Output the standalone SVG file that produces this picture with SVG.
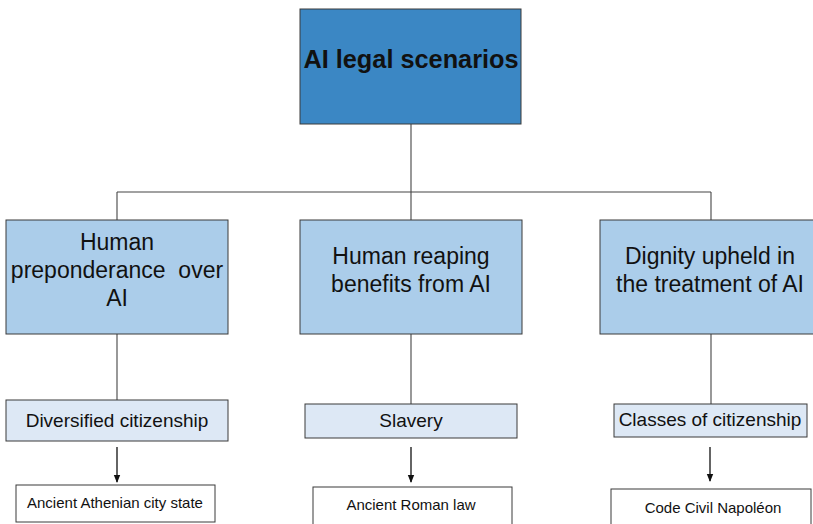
<svg xmlns="http://www.w3.org/2000/svg" width="813" height="524" viewBox="0 0 813 524">
<style>
  .box{stroke:#3a3a3a;stroke-width:1}
  .top{fill:#3b87c4}
  .mid{fill:#abcdea}
  .low{fill:#dde8f5}
  .leaf{fill:#ffffff}
  text{font-family:"Liberation Sans",Arial,sans-serif;fill:#111;text-anchor:middle}
  .t0{font-size:25.3px;font-weight:bold}
  .t1{font-size:23px}
  .t2{font-size:19px}
  .t3{font-size:15px}
  .conn line{stroke:#444;stroke-width:1.1;fill:none}
  .conn .arr{stroke:#111;stroke-width:1.3}
</style>
<defs>
  <marker id="ah2" markerWidth="8" markerHeight="8" refX="7" refY="4" orient="auto" markerUnits="userSpaceOnUse" viewBox="0 0 8 8">
    <path d="M0,0.8 L8,4 L0,7.2 Z" fill="#111"/>
  </marker>
</defs>
<rect width="813" height="524" fill="#ffffff"/>
<g class="conn" id="connectors">
  <line x1="411" y1="124" x2="411" y2="192"/>
  <line x1="117" y1="192" x2="711" y2="192"/>
  <line x1="117" y1="192" x2="117" y2="220"/>
  <line x1="411" y1="192" x2="411" y2="220"/>
  <line x1="711" y1="192" x2="711" y2="220"/>
  <line x1="117" y1="334" x2="117" y2="400"/>
  <line x1="411" y1="334" x2="411" y2="404"/>
  <line x1="711" y1="334" x2="711" y2="404"/>
  <line class="arr" x1="117" y1="447" x2="117" y2="482" marker-end="url(#ah2)"/>
  <line class="arr" x1="411" y1="447" x2="411" y2="482" marker-end="url(#ah2)"/>
  <line class="arr" x1="710" y1="447" x2="710" y2="481" marker-end="url(#ah2)"/>
</g>
<g id="root">
  <rect class="box top" x="300" y="9" width="221" height="115"/>
  <text class="t0" x="411" y="68">AI legal scenarios</text>
</g>
<g id="n1">
  <rect class="box mid" x="6" y="220" width="222" height="114"/>
  <text class="t1" x="117" y="250">Human</text>
  <text class="t1" x="117" y="278" xml:space="preserve">preponderance  over</text>
  <text class="t1" x="117" y="306">AI</text>
</g>
<g id="n2">
  <rect class="box mid" x="300" y="220" width="222" height="114"/>
  <text class="t1" x="411" y="264">Human reaping</text>
  <text class="t1" x="411" y="292">benefits from AI</text>
</g>
<g id="n3">
  <rect class="box mid" x="600" y="220" width="222" height="114"/>
  <text class="t1" x="710" y="264">Dignity upheld in</text>
  <text class="t1" x="710" y="292">the treatment of AI</text>
</g>
<g id="n1b">
  <rect class="box low" x="6" y="400" width="222" height="41"/>
  <text class="t2" x="117" y="427">Diversified citizenship</text>
</g>
<g id="n2b">
  <rect class="box low" x="305" y="404" width="212" height="34"/>
  <text class="t2" x="411" y="427">Slavery</text>
</g>
<g id="n3b">
  <rect class="box low" x="614" y="404" width="193" height="33"/>
  <text class="t2" x="710" y="426">Classes of citizenship</text>
</g>
<g id="n1c">
  <rect class="box leaf" x="16" y="485" width="199" height="37"/>
  <text class="t3" x="115" y="508">Ancient Athenian city state</text>
</g>
<g id="n2c">
  <rect class="box leaf" x="313" y="487" width="199" height="45"/>
  <text class="t3" x="411" y="510">Ancient Roman law</text>
</g>
<g id="n3c">
  <rect class="box leaf" x="611" y="489" width="200" height="45"/>
  <text class="t3" x="713" y="513">Code Civil Napoléon</text>
</g>
</svg>
